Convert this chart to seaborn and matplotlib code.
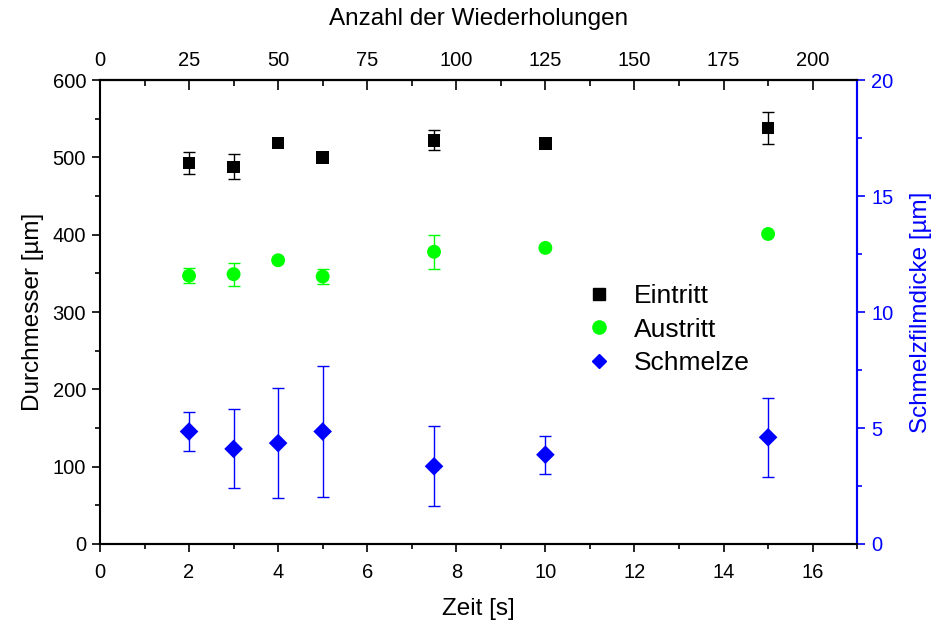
import matplotlib
matplotlib.use("Agg")
import matplotlib.pyplot as plt
import seaborn as sns
from matplotlib.ticker import MultipleLocator
from matplotlib.lines import Line2D

# Measurement times [s]
zeit = [2, 3, 4, 5, 7.5, 10, 15]

# Inlet diameter [µm]
eintritt = [493, 488, 519, 500, 522, 518, 538]
eintritt_err = [14, 16, 0, 0, 13, 0, 21]

# Outlet diameter [µm]
austritt = [347, 349, 367, 346, 378, 383, 401]
austritt_err = [10, 15, 0, 10, 22, 0, 0]

# Melt film thickness [µm]
schmelze = [4.85, 4.1, 4.35, 4.85, 3.35, 3.85, 4.6]
schmelze_err = [0.82, 1.7, 2.38, 2.83, 1.72, 0.82, 1.71]

labels = ["Eintritt", "Austritt", "Schmelze"]
colors = ["#000000", "#00FF00", "#0000FF"]

sns.set_theme(style="white")
plt.rcParams["font.family"] = ["Liberation Sans", "DejaVu Sans"]
plt.rcParams["text.color"] = "black"
plt.rcParams["axes.labelcolor"] = "black"
plt.rcParams["xtick.color"] = "black"
plt.rcParams["ytick.color"] = "black"


def draw_errors(axis, x, y, err, color):
    """Error bars only where a spread was measured."""
    keep = [i for i, e in enumerate(err) if e > 0]
    axis.errorbar([x[i] for i in keep], [y[i] for i in keep],
                  yerr=[err[i] for i in keep], fmt="none", ecolor=color,
                  elinewidth=1, capsize=4.3, capthick=1, zorder=2)


fig = plt.figure(figsize=(9.43, 6.26), dpi=100)
ax = fig.add_axes([0.106, 0.131, 0.803, 0.741])
ax2 = ax.twinx()

# Diameters on the left axis
draw_errors(ax, zeit, eintritt, eintritt_err, colors[0])
draw_errors(ax, zeit, austritt, austritt_err, colors[1])
sns.scatterplot(x=zeit, y=eintritt, marker="s", color=colors[0], s=80,
                edgecolor="none", ax=ax, zorder=3, legend=False)
sns.scatterplot(x=zeit, y=austritt, marker="o", color=colors[1], s=100,
                edgecolor="none", ax=ax, zorder=3, legend=False)

# Film thickness on the right axis
draw_errors(ax2, zeit, schmelze, schmelze_err, colors[2])
sns.scatterplot(x=zeit, y=schmelze, marker="D", color=colors[2], s=90,
                edgecolor="none", ax=ax2, zorder=3, legend=False)

ax.set_xlim(0, 17)
ax.set_ylim(0, 600)
ax2.set_ylim(0, 20)

tick_fs = 14.5
label_fs = 17.5

# Bottom / left axes
ax.xaxis.set_major_locator(MultipleLocator(2))
ax.xaxis.set_minor_locator(MultipleLocator(1))
ax.yaxis.set_major_locator(MultipleLocator(100))
ax.yaxis.set_minor_locator(MultipleLocator(50))
ax.tick_params(axis="both", which="major", direction="out", length=6, width=1.2,
               color="black", labelsize=tick_fs, labelcolor="black", pad=4,
               bottom=True, left=True, top=False, right=False)
ax.tick_params(axis="x", which="major", pad=8)
ax.tick_params(axis="both", which="minor", direction="out", length=3.5, width=1.2,
               color="black", bottom=True, left=True, top=False, right=False)
ax.set_xlabel("Zeit [s]", fontsize=label_fs, labelpad=11)
ax.set_ylabel("Durchmesser [µm]", fontsize=label_fs, labelpad=6)

# Right axis
ax2.yaxis.set_major_locator(MultipleLocator(5))
ax2.yaxis.set_minor_locator(MultipleLocator(2.5))
ax2.tick_params(axis="y", which="major", direction="out", length=6, width=1.2,
                color=colors[2], labelsize=tick_fs, labelcolor=colors[2], pad=4,
                right=True)
ax2.tick_params(axis="y", which="minor", direction="out", length=3.5, width=1.2,
                color=colors[2], right=True)
ax2.set_ylabel("Schmelzfilmdicke [µm]", fontsize=label_fs, color=colors[2], labelpad=12)

for a in (ax, ax2):
    for side in ("left", "bottom", "top"):
        a.spines[side].set_color("black")
        a.spines[side].set_linewidth(1.5)
    a.spines["right"].set_color(colors[2])
    a.spines["right"].set_linewidth(1.5)
ax2.spines["left"].set_visible(False)

# Top axis: number of repetitions
top = ax.secondary_xaxis("top", functions=(lambda x: x * 12.5, lambda n: n / 12.5))
top.xaxis.set_major_locator(MultipleLocator(25))
top.xaxis.set_minor_locator(MultipleLocator(12.5))
top.tick_params(axis="x", which="major", direction="in", length=7, width=1.2,
                labelsize=tick_fs, pad=7, colors="black")
top.tick_params(axis="x", which="minor", direction="in", length=4, width=1.2)
top.set_xlabel("Anzahl der Wiederholungen", fontsize=label_fs, labelpad=19)
top.spines["top"].set_linewidth(1.5)

handles = [
    Line2D([], [], linestyle="none", marker="s", color=colors[0], markersize=8.5),
    Line2D([], [], linestyle="none", marker="o", color=colors[1], markersize=9.5),
    Line2D([], [], linestyle="none", marker="D", color=colors[2], markersize=7.5),
]
ax2.legend(handles, labels, loc="upper left", bbox_to_anchor=(0.607, 0.611),
           frameon=False, fontsize=19, handlelength=1.2, handletextpad=0.73,
           labelspacing=0.35)

fig.savefig("out.png", dpi=100)
